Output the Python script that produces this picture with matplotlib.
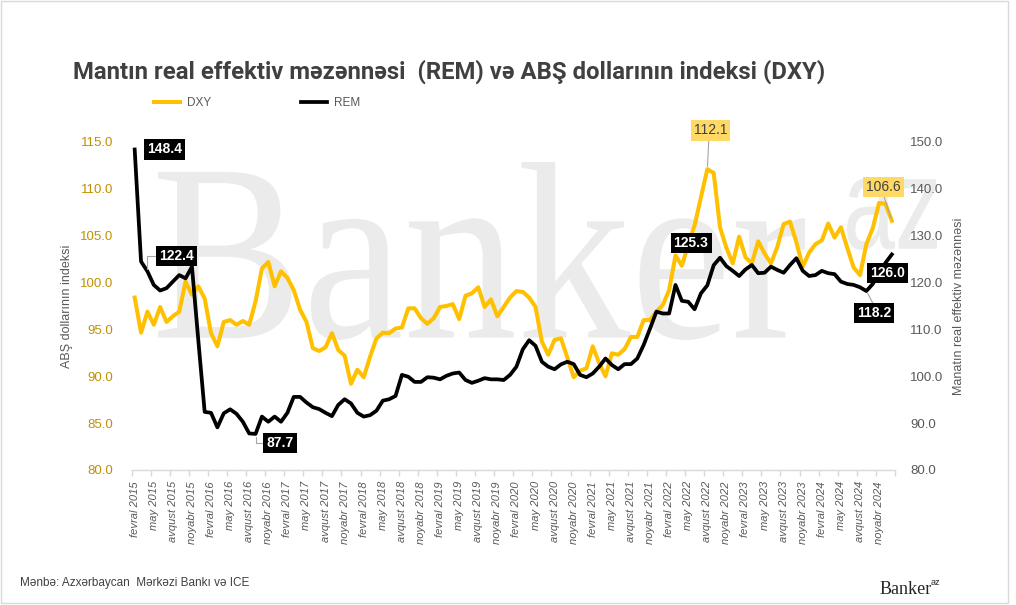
import matplotlib
matplotlib.use("Agg")
import matplotlib.pyplot as plt
from matplotlib.textpath import TextPath
from matplotlib.patches import PathPatch, Rectangle
from matplotlib.font_manager import FontProperties
from matplotlib.transforms import Affine2D
from matplotlib.ticker import FixedLocator, FuncFormatter
import numpy as np

# ---------------- data ----------------
month_names = ["yanvar", "fevral", "mart", "aprel", "may", "iyun", "iyul",
               "avqust", "sentyabr", "oktyabr", "noyabr", "dekabr"]
start_year, start_month = 2015, 1          # fevral 2015 (0-based month index)
n_months = 120                             # fevral 2015 ... yanvar 2025
categories = [f"{month_names[(start_month + k) % 12]} {start_year + (start_month + k) // 12}"
              for k in range(n_months)]

dxy = [98.4, 94.65, 96.9, 95.5, 97.4, 95.8, 96.4, 96.9, 100.1, 98.7,
       99.6, 98.3, 94.6, 93.2, 95.8, 96.0, 95.5, 95.9, 95.5, 98.0,
       101.5, 102.2, 99.6, 101.2, 100.5, 99.2, 97.1, 95.8, 93.0, 92.7,
       93.1, 94.6, 92.8, 92.2, 89.2, 90.7, 89.9, 92.1, 94.05, 94.65,
       94.6, 95.1, 95.2, 97.25, 97.25, 96.2, 95.6, 96.2, 97.4, 97.5,
       97.7, 96.1, 98.6, 98.85, 99.5, 97.4, 98.2, 96.4, 97.4, 98.4,
       99.1, 99.0, 98.4, 97.4, 93.7, 92.3, 93.9, 94.05, 92.0, 89.9,
       90.6, 90.85, 93.2, 91.4, 90.0, 92.45, 92.3, 92.9, 94.2, 94.2,
       96.0, 96.0, 96.9, 97.6, 99.2, 102.9, 101.8, 104.0, 106.1, 109.1,
       112.1, 111.7, 105.9, 103.7, 102.05, 104.9, 102.7, 102.05, 104.4, 103.1,
       102.05, 103.8, 106.25, 106.5, 104.3, 101.7, 103.2, 104.1, 104.5, 106.3,
       104.8, 105.9, 103.7, 101.6, 100.8, 104.1, 105.8, 108.5, 108.4, 106.6]

rem = [148.4, 124.5, 122.4, 119.5, 118.3, 118.8, 120.2, 121.6, 120.9, 123.4,
       107.7, 92.4, 92.2, 89.1, 92.1, 92.95, 92.0, 90.3, 87.8, 87.7,
       91.4, 90.3, 91.4, 90.3, 92.2, 95.6, 95.6, 94.4, 93.4, 93.0,
       92.2, 91.5, 93.9, 95.1, 94.2, 92.2, 91.4, 91.7, 92.65, 94.8,
       95.1, 95.8, 100.3, 99.9, 98.8, 98.8, 99.8, 99.7, 99.35, 100.1,
       100.6, 100.8, 99.2, 98.6, 99.05, 99.6, 99.35, 99.35, 99.2, 100.3,
       102.05, 105.75, 107.7, 106.5, 103.1, 102.05, 101.5, 102.55, 103.1, 102.6,
       100.3, 99.8, 100.6, 102.05, 103.8, 102.4, 101.5, 102.6, 102.6, 103.8,
       106.7, 110.2, 113.8, 113.4, 113.4, 119.5, 116.1, 115.9, 114.3, 117.7,
       119.4, 123.7, 125.3, 123.5, 122.5, 121.4, 122.8, 123.75, 122.0, 122.1,
       123.4, 122.7, 122.1, 123.75, 125.2, 122.5, 121.4, 121.6, 122.5, 122.0,
       121.8, 120.2, 119.7, 119.5, 119.0, 118.2, 119.7, 122.1, 124.2, 126.0]

# labelled points (index into series)
rem_labels = [0, 2, 19, 92, 115, 119]
dxy_labels = [90, 119]

title = "Mantın real effektiv məzənnəsi  (REM) və ABŞ dollarının indeksi (DXY)"
left_ylabel = "ABŞ dollarının indeksi"
right_ylabel = "Manatın real effektiv məzənnəsi"
source = "Mənbə: Azxərbaycan  Mərkəzi Bankı və ICE"

# ---------------- style ----------------
GOLD = "#FFC000"
GOLD_LIGHT = "#FFD966"
GOLD_TXT = "#BF9000"
GREY = "#595959"
DARK = "#404040"
WM = "#ebebeb"
SANS = ["Liberation Sans", "DejaVu Sans"]

W, H = 1016, 605
fig = plt.figure(figsize=(W / 100, H / 100), dpi=100)
fig.patch.set_facecolor("white")
px = Affine2D().scale(1 / W, 1 / H) + fig.transFigure   # pixels from bottom-left

# border
fig.add_artist(Rectangle((1, 2), 1007, 602, transform=px, fill=False,
                         ec="#d9d9d9", lw=1.0, zorder=-5))

# watermark "Banker" + "az"
def add_word(text, family, x0, x1, y0, y1):
    tp = TextPath((0, 0), text, size=100, prop=FontProperties(family=family))
    bb = tp.get_extents()
    tr = (Affine2D().translate(-bb.x0, -bb.y0)
          .scale((x1 - x0) / bb.width, (y1 - y0) / bb.height)
          .translate(x0, y0) + px)
    fig.add_artist(PathPatch(tp, transform=tr, fc=WM, ec="none", zorder=-2))

add_word("Banker", "Liberation Serif", 158, 805, H - 340, H - 162)
add_word("az", "Liberation Sans", 847, 937, H - 250, H - 178)

# ---------------- axes ----------------
ax = fig.add_axes([131.5 / W, (H - 470) / H, (895 - 131.5) / W, (470 - 142) / H])
ax2 = ax.twinx()
for a in (ax, ax2):
    a.patch.set_visible(False)
    for s in a.spines.values():
        s.set_visible(False)
ax.spines["bottom"].set_visible(True)
ax.spines["bottom"].set_color("#d9d9d9")
ax.spines["bottom"].set_linewidth(1.0)

x = np.arange(n_months)
l1, = ax.plot(x, dxy, color=GOLD, lw=2.9, solid_joinstyle="round", label="DXY", zorder=3)
l2, = ax2.plot(x, rem, color="black", lw=2.7, solid_joinstyle="round", label="REM", zorder=3)

ax.set_xlim(-0.5, n_months - 0.5)
ax.set_ylim(80, 115)
ax2.set_ylim(80, 150)
ax.set_yticks(np.arange(80, 115.1, 5))
ax2.set_yticks(np.arange(80, 150.1, 10))
fmt = FuncFormatter(lambda v, p: f"{v:.1f}")
ax.yaxis.set_major_formatter(fmt)
ax2.yaxis.set_major_formatter(fmt)
ax.tick_params(axis="y", length=0, pad=13, labelsize=9.5, labelcolor=GOLD_TXT)
ax2.tick_params(axis="y", length=0, pad=11, labelsize=9.5, labelcolor=GREY)
for lab in ax.get_yticklabels() + ax2.get_yticklabels():
    lab.set_family(SANS)

major = list(range(0, n_months, 3))
ax.xaxis.set_major_locator(FixedLocator(major))
ax.set_xticklabels([categories[i] for i in major], rotation=90, fontsize=8,
                   style="italic", color=GREY, family=SANS, ha="center", va="top")
ax.xaxis.set_minor_locator(FixedLocator(np.arange(-0.5, n_months, 3)))
ax.tick_params(axis="x", which="major", length=0, pad=8)
ax.tick_params(axis="x", which="minor", length=4, color="#d9d9d9", width=1)
ax2.tick_params(axis="x", length=0)

ax.set_ylabel(left_ylabel, fontsize=9, color=GREY, family=SANS)
ax.yaxis.set_label_coords(-0.0766, 0.5)
ax2.set_ylabel(right_ylabel, fontsize=9, color=GREY, family=SANS, rotation=90)
ax2.yaxis.set_label_coords(1.076, 0.5)

# legend
fig.legend(handles=[l1, l2], loc="center left", bbox_to_anchor=(154, H - 103),
           bbox_transform=px, ncol=2, frameon=False, borderpad=0, borderaxespad=0,
           handlelength=2.2, handletextpad=0.6, columnspacing=7.6,
           prop=dict(family=SANS, size=8.5), labelcolor=GREY)

# ---------------- data labels ----------------
def tag(axis, i, val, dx, dy, fc, tc, weight, relpos=None, conn="arc3"):
    kw = {}
    if relpos is not None:
        kw["arrowprops"] = dict(arrowstyle="-", color="#a6a6a6", lw=0.8,
                                shrinkA=0, shrinkB=2, relpos=relpos,
                                connectionstyle=conn)
    axis.annotate(f"{val:.1f}", xy=(i, val), xytext=(dx, dy),
                  textcoords="offset pixels", ha="center", va="center",
                  fontsize=10, fontweight=weight, color=tc, family=SANS,
                  bbox=dict(boxstyle="square,pad=0.22", fc=fc, ec="none"),
                  zorder=6, annotation_clip=False, **kw)

rem_pos = {0: (29.5, 0, None, "arc3"),
           2: (29, 15, (0, 0.5), "angle,angleA=0,angleB=90,rad=0"),
           19: (24.6, -9.4, (0, 0.5), "angle,angleA=0,angleB=90,rad=0"),
           92: (-29, 14.4, None, "arc3"),
           115: (8, -22, (0.5, 1), "arc3"),
           119: (-4.7, -18.1, None, "arc3")}
for i in rem_labels:
    dx, dy, rp, cs = rem_pos[i]
    tag(ax2, i, rem[i], dx, dy, "black", "white", "bold", rp, cs)

dxy_pos = {90: (3.3, 38.7, (0.45, 0), "arc3"),
           119: (-8.4, 34, (0.49, 0), "arc3")}
for i in dxy_labels:
    dx, dy, rp, cs = dxy_pos[i]
    tag(ax, i, dxy[i], dx, dy, GOLD_LIGHT, DARK, "normal", rp, cs)

# ---------------- texts ----------------
fig.text(73 / W, (H - 72) / H, title, fontsize=17.2, fontweight="bold",
         color=DARK, family=["Roboto", "DejaVu Sans"], ha="left", va="center")
fig.text(20 / W, (H - 583) / H, source, fontsize=8.5, color=DARK, family=SANS,
         ha="left", va="center")
fig.text(880 / W, (H - 594) / H, "Banker", fontsize=13, color="#262626",
         family=["Liberation Serif"], ha="left", va="baseline")
fig.text(931 / W, (H - 585) / H, "az", fontsize=6.5, color="#262626",
         family=SANS, ha="left", va="baseline")

fig.savefig("out.png", dpi=100, facecolor="white")
